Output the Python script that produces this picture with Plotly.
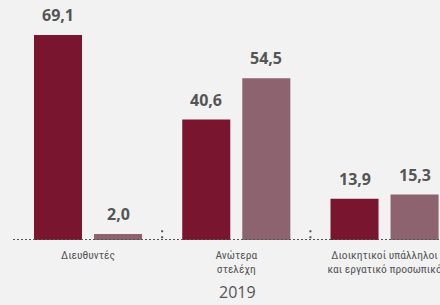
import plotly.graph_objects as go

categories = ["Διευθυντές", "Ανώτερα<br>στελέχη", "Διοικητικοί υπάλληλοι<br>και εργατικό προσωπικό"]
series_a = [69.1, 40.6, 13.9]
series_b = [2.0, 54.5, 15.3]
year_label = "2019"

col_a = "#7a1530"
col_b = "#8e6370"
txt_col = "#555555"
bg = "#f2f2f2"

xs = list(range(len(categories)))

fig = go.Figure()
fig.add_trace(go.Bar(x=xs, y=series_a, marker_color=col_a, marker_line_width=0, showlegend=False, hoverinfo="skip"))
fig.add_trace(go.Bar(x=xs, y=series_b, marker_color=col_b, marker_line_width=0, showlegend=False, hoverinfo="skip"))

off = 0.2024
for i, (a, b) in enumerate(zip(series_a, series_b)):
    for dx, v in ((-off, a), (off, b)):
        fig.add_annotation(x=i + dx, y=v, text="<b>%s</b>" % f"{v:.1f}".replace(".", ","),
                           showarrow=False, yanchor="bottom", yshift=7,
                           font=dict(family="Open Sans", size=16, color=txt_col))

# dotted baseline
fig.add_shape(type="line", xref="paper", yref="y", x0=0, x1=1, y0=0, y1=0,
              line=dict(color=txt_col, width=2, dash="2px,2px"), layer="above")
# separators between groups
for sx in (0.5, 1.5):
    fig.add_shape(type="line", xref="x", yref="y", x0=sx, x1=sx, y0=0.6, y1=4.6,
                  line=dict(color=txt_col, width=2, dash="2px,4px"), layer="above")

fig.add_annotation(xref="paper", yref="paper", x=(237 - 13) / 427, y=-0.215, text=year_label,
                   showarrow=False, yanchor="middle",
                   font=dict(family="Open Sans", size=16, color=txt_col))

fig.update_layout(
    width=440, height=305,
    margin=dict(l=13, r=0, t=0, b=65),
    paper_bgcolor=bg, plot_bgcolor=bg,
    barmode="group", bargap=0.19, bargroupgap=0.2,
    xaxis=dict(range=[-0.506, 2.374], tickvals=xs, ticktext=categories,
               showgrid=False, zeroline=False, showline=False, ticks="", automargin=False,
               ticklabeloverflow="allow", ticklabelstandoff=6,
               tickfont=dict(family="Roboto Condensed, DejaVu Sans Condensed, sans-serif", size=11.5, color=txt_col)),
    yaxis=dict(range=[0, 80.9], visible=False, fixedrange=True),
)

fig.write_html("out.html", config={"displayModeBar": False, "responsive": False},
               post_script="document.body.style.margin='0';")
